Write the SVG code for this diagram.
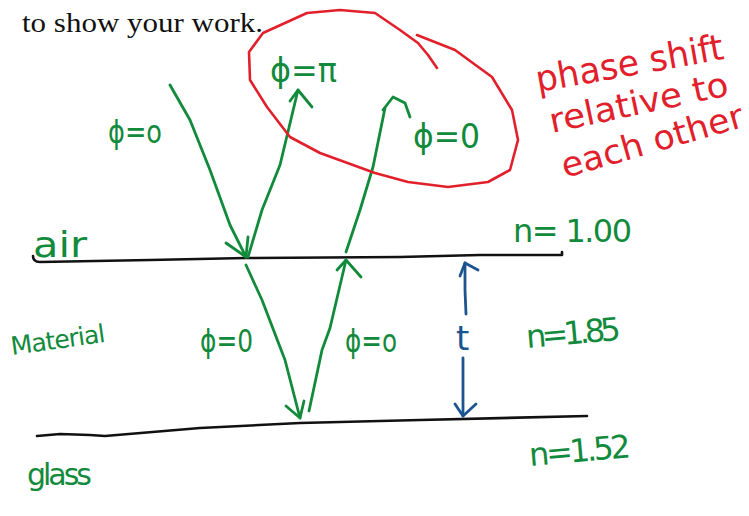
<svg xmlns="http://www.w3.org/2000/svg" width="749" height="516" viewBox="0 0 749 516">
<style>
.ink{fill:none;stroke-linecap:round;stroke-linejoin:round}
.k{stroke:#111;stroke-width:2.6}
.g{stroke:#128a3c;stroke-width:2.8}
.r{stroke:#e2202c;stroke-width:2.6}
.b{stroke:#1b5490;stroke-width:2.8}
.tg{fill:#128a3c;font-family:"DejaVu Sans",sans-serif}
.tr{fill:#e2202c;font-family:"DejaVu Sans",sans-serif}
.tb{fill:#1b5490;font-family:"DejaVu Sans",sans-serif}
</style>
<rect width="749" height="516" fill="#fff"/>
<text id="header" x="22" y="32" font-family="Liberation Serif,serif" font-size="28" fill="#111" textLength="241" lengthAdjust="spacingAndGlyphs">to show your work.</text>
<g id="air-interface"><path class="ink k" d="M33,256 Q33,262 40,262 L150,260 L246,258 L400,257 L480,255 L562,255 L562,252"/></g>
<g id="glass-interface"><path class="ink k" d="M37,436 L60,434 L90,435 L105,436 L200,428 L300,423 L420,420 L587,416"/></g>
<g id="connectors">
<path class="ink g" d="M170,85 L190,120 L210,170 L230,225 L246,257"/>
<path class="ink g" d="M226,243 L246,257 L248,237"/>
<path class="ink g" d="M248,257 L262,210 L280,165 L298,90"/>
<path class="ink g" d="M290,101 L298,90 L312,107"/>
<path class="ink g" d="M246,265 L262,300 L285,360 L300,418"/>
<path class="ink g" d="M286,406 L300,418 L304,401"/>
<path class="ink g" d="M309,411 L322,350 L330,328 L346,260"/>
<path class="ink g" d="M337,270 L346,260 L361,277"/>
<path class="ink g" d="M346,252 L360,210 L373,167 L385,108"/>
<path class="ink g" d="M383,110 L393,97 L405,103 L410,117"/>
<path class="ink b" d="M466,314 L465,290 L465,263"/>
<path class="ink b" d="M460,276 L465,263 L478,270"/>
<path class="ink b" d="M463,358 L463,390 L463,416"/>
<path class="ink b" d="M455,404 L463,416 L476,404"/>
</g>
<g id="highlight-loop"><path class="ink r" d="M437,68 L428,55 L418,43 L400,30 L375,13 L340,10 L307,13 L263,33 L249,52 L250,80 L267,107 L290,137 L320,153 L375,173 L408,182 L448,187 L488,182 L510,170 L518,140 L512,110 L492,77 L455,50 L417,35"/></g>
<g id="labels">
<text class="tg" x="108" y="143" font-size="32" textLength="54" lengthAdjust="spacingAndGlyphs">ϕ=o</text>
<text class="tg" x="270" y="82" font-size="34" textLength="67" lengthAdjust="spacingAndGlyphs">ϕ=π</text>
<text class="tg" x="413" y="148" font-size="34" textLength="67" lengthAdjust="spacingAndGlyphs">ϕ=0</text>
<text class="tg" x="33" y="257" font-size="36" textLength="54" lengthAdjust="spacingAndGlyphs">air</text>
<text class="tg" x="513" y="242" font-size="32" textLength="119">n= 1.00</text>
<text class="tg" x="12" y="355" font-size="25" textLength="95" transform="rotate(-8 12 355)">Material</text>
<text class="tg" x="200" y="352" font-size="32" textLength="53" lengthAdjust="spacingAndGlyphs">ϕ=0</text>
<text class="tg" x="345" y="352" font-size="32" textLength="52" lengthAdjust="spacingAndGlyphs">ϕ=o</text>
<text class="tb" x="456" y="350" font-size="34">t</text>
<text class="tg" x="527" y="348" font-size="32" textLength="95" transform="rotate(-5 527 348)">n=1.85</text>
<text class="tg" x="530" y="466" font-size="32" textLength="102" transform="rotate(-5 530 466)">n=1.52</text>
<text class="tg" x="27" y="485" font-size="30" textLength="65">glass</text>
<text class="tr" x="538" y="92" font-size="36" textLength="190" lengthAdjust="spacingAndGlyphs" transform="rotate(-10 538 92)">phase shift</text>
<text class="tr" x="552" y="133" font-size="34" textLength="182" lengthAdjust="spacingAndGlyphs" transform="rotate(-12 552 133)">relative to</text>
<text class="tr" x="565" y="178" font-size="34" textLength="188" lengthAdjust="spacingAndGlyphs" transform="rotate(-16 565 178)">each other</text>
</g>
</svg>
